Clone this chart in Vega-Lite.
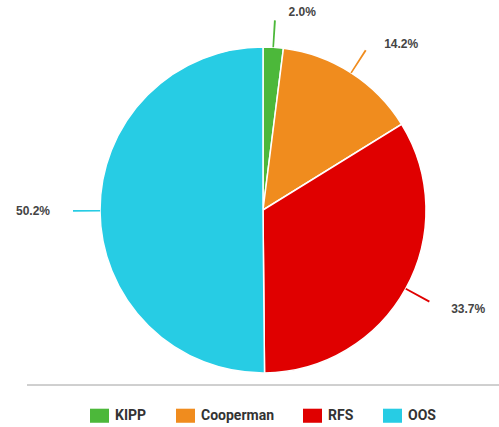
{
  "$schema": "https://vega.github.io/schema/vega-lite/v6.json",
  "width": 472,
  "height": 420,
  "autosize": {"type": "none"},
  "padding": {"left": 27, "top": 0, "right": 0, "bottom": 7},
  "background": "white",
  "view": {"stroke": null},
  "data": {
    "values": [
      {"school": "KIPP", "value": 2.0, "order": 1, "label": "2.0%"},
      {"school": "Cooperman", "value": 14.2, "order": 2, "label": "14.2%"},
      {"school": "RFS", "value": 33.7, "order": 3, "label": "33.7%"},
      {"school": "OOS", "value": 50.2, "order": 4, "label": "50.2%"}
    ]
  },
  "layer": [
    {
      "mark": {"type": "arc", "radius": 163, "stroke": "white", "strokeWidth": 1.5},
      "encoding": {
        "theta": {"field": "value", "type": "quantitative", "stack": true},
        "order": {"field": "order", "type": "quantitative"},
        "color": {
          "field": "school",
          "type": "nominal",
          "scale": {
            "domain": ["KIPP", "Cooperman", "RFS", "OOS"],
            "range": ["#4cb83a", "#f08c1e", "#e00000", "#27cce4"]
          },
          "legend": {
            "title": null,
            "orient": "none",
            "direction": "horizontal",
            "legendX": 63,
            "legendY": 406,
            "padding": 0,
            "symbolType": "M-1,-0.74H1V0.74H-1Z",
            "symbolSize": 361,
            "symbolStrokeWidth": 0,
            "labelFont": "Roboto",
            "labelFontWeight": "bold",
            "labelFontSize": 14,
            "labelColor": "#333333",
            "labelOffset": 6,
            "columnPadding": 29
          }
        }
      }
    },
    {
      "transform": [
        {"stack": "value", "groupby": [], "sort": [{"field": "order"}], "as": ["v0", "v1"]},
        {"calculate": "(datum.v0 + datum.v1) / 2 - 0.08", "as": "m0"},
        {"calculate": "(datum.v0 + datum.v1) / 2 + 0.08", "as": "m1"}
      ],
      "mark": {"type": "arc", "radius": 163, "radius2": 190},
      "encoding": {
        "theta": {"field": "m0", "type": "quantitative"},
        "theta2": {"field": "m1"},
        "color": {"field": "school", "type": "nominal", "legend": null}
      }
    },
    {
      "transform": [{"filter": "datum.school != 'OOS'"}],
      "mark": {
        "type": "text", "radius": 200, "align": "left", "baseline": "middle", "dx": 13, "dy": 2,
        "font": "Liberation Sans", "fontWeight": "bold", "fontSize": 12, "fill": "#444444"
      },
      "encoding": {
        "theta": {"field": "value", "type": "quantitative", "stack": true},
        "order": {"field": "order", "type": "quantitative"},
        "text": {"field": "label"}
      }
    },
    {
      "mark": {
        "type": "text", "radius": 200, "align": "right", "baseline": "middle", "dx": -13,
        "font": "Liberation Sans", "fontWeight": "bold", "fontSize": 12, "fill": "#444444"
      },
      "encoding": {
        "theta": {"field": "value", "type": "quantitative", "stack": true},
        "order": {"field": "order", "type": "quantitative"},
        "text": {"condition": {"test": "datum.school == 'OOS'", "field": "label"}, "value": ""}
      }
    },
    {
      "mark": {"type": "rule", "color": "#cccccc", "strokeWidth": 1},
      "encoding": {
        "y": {"datum": 0.0833, "type": "quantitative", "scale": {"domain": [0, 1]}, "axis": null}
      }
    }
  ]
}
